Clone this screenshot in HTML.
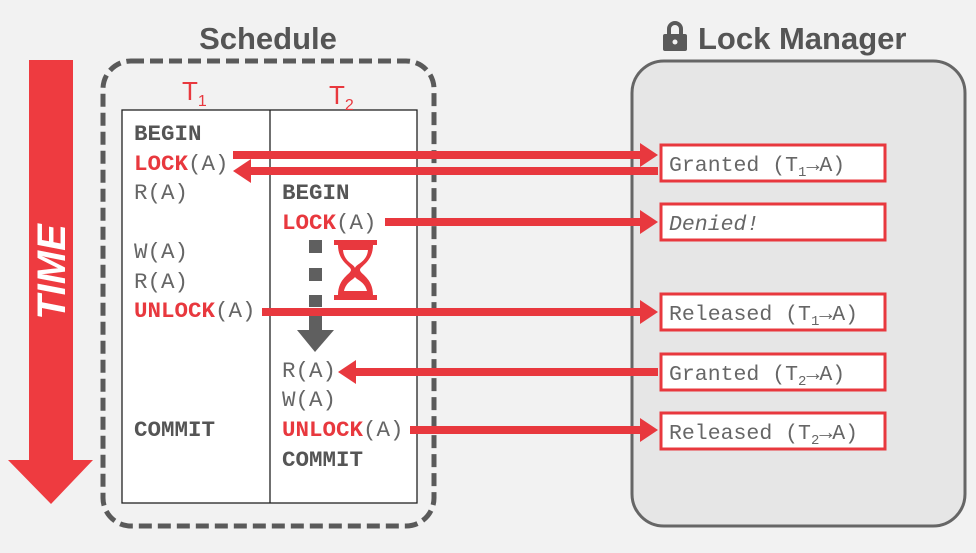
<!DOCTYPE html>
<html><head><meta charset="utf-8"><style>
html,body{margin:0;padding:0;background:#f2f2f2;}
svg{display:block}
.m{font-family:"Liberation Mono",monospace;font-size:22.5px;fill:#666}
.b{font-weight:bold;fill:#555}
.r{fill:#e8383e;font-weight:bold}
.h{font-family:"Liberation Sans",sans-serif;font-weight:bold;fill:#555;font-size:31px}
</style></head><body>
<svg width="976" height="553" viewBox="0 0 976 553" xmlns="http://www.w3.org/2000/svg">
<rect width="976" height="553" fill="#f2f2f2"/>
<polygon points="29,60 73,60 73,460 93,460 51,504 8,460 29,460" fill="#ee3b40"/>
<text transform="translate(65,272) rotate(-90)" text-anchor="middle" font-family="Liberation Sans,sans-serif" font-weight="bold" font-style="italic" font-size="40" fill="#fff">TIME</text>
<text x="268" y="49" text-anchor="middle" class="h">Schedule</text>
<rect x="103" y="61" width="331" height="465" rx="28" fill="none" stroke="#5a5a5a" stroke-width="5" stroke-dasharray="13,6"/>
<rect x="122" y="110" width="295" height="393" fill="#fff" stroke="#222" stroke-width="1.3"/>
<line x1="270" y1="110" x2="270" y2="503" stroke="#222" stroke-width="1.3"/>
<text x="182" y="100" font-family="Liberation Sans,sans-serif" font-size="26" fill="#e8383e">T<tspan font-size="16" dy="6">1</tspan></text>
<text x="329" y="104" font-family="Liberation Sans,sans-serif" font-size="26" fill="#e8383e">T<tspan font-size="16" dy="6">2</tspan></text>
<g class="m">
<text x="134" y="140" class="b">BEGIN</text>
<text x="134" y="170"><tspan class="r">LOCK</tspan>(A)</text>
<text x="134" y="199">R(A)</text>
<text x="134" y="258">W(A)</text>
<text x="134" y="288">R(A)</text>
<text x="134" y="317"><tspan class="r">UNLOCK</tspan>(A)</text>
<text x="134" y="436" class="b">COMMIT</text>
<text x="282" y="199" class="b">BEGIN</text>
<text x="282" y="229"><tspan class="r">LOCK</tspan>(A)</text>
<text x="282" y="377">R(A)</text>
<text x="282" y="406">W(A)</text>
<text x="282" y="436"><tspan class="r">UNLOCK</tspan>(A)</text>
<text x="282" y="466" class="b">COMMIT</text>
</g>
<g fill="#5f5f5f">
<rect x="309" y="240" width="13" height="13"/>
<rect x="309" y="268" width="13" height="13"/>
<rect x="309" y="295" width="13" height="12"/>
<rect x="309" y="316" width="13" height="14"/>
<polygon points="297,330 334,330 315,352"/>
</g>
<g fill="#e8383e">
<rect x="334" y="240" width="43" height="5"/>
<rect x="334" y="295" width="43" height="5"/>
<path d="M338,245 L373,245 C373,262 360,266 360,270 C360,274 373,278 373,295 L338,295 C338,278 351,274 351,270 C351,266 338,262 338,245 Z M343,250 C344,262 354,264 355,268 C356,264 367,262 368,250 Z M344,291 L367,291 C365,282 357,280 355,277 C353,280 346,282 344,291 Z" fill-rule="evenodd"/>
</g>
<text x="698" y="49" class="h">Lock Manager</text>
<g fill="#5a5a5a"><rect x="663" y="34" width="24" height="17" rx="2"/><path d="M667,35 v-6 a8,8 0 0 1 16,0 v6 h-4 v-6 a4,4 0 0 0 -8,0 v6z"/></g>
<circle cx="675" cy="42" r="2.5" fill="#f2f2f2"/>
<rect x="632" y="61" width="333" height="465" rx="32" fill="#e6e6e6" stroke="#666" stroke-width="3"/>
<g fill="#fff" stroke="#e8383e" stroke-width="3">
<rect x="661" y="145" width="224" height="36"/>
<rect x="661" y="204" width="224" height="36"/>
<rect x="661" y="294" width="224" height="36"/>
<rect x="661" y="354" width="224" height="36"/>
<rect x="661" y="413" width="224" height="36"/>
</g>
<g class="m" style="font-size:21.5px">
<text x="669" y="171">Granted (T<tspan font-size="14" dy="5">1</tspan><tspan dy="-5">→A)</tspan></text>
<text x="669" y="230" font-style="italic">Denied!</text>
<text x="669" y="320">Released (T<tspan font-size="14" dy="5">1</tspan><tspan dy="-5">→A)</tspan></text>
<text x="669" y="380">Granted (T<tspan font-size="14" dy="5">2</tspan><tspan dy="-5">→A)</tspan></text>
<text x="669" y="439">Released (T<tspan font-size="14" dy="5">2</tspan><tspan dy="-5">→A)</tspan></text>
</g>
<g fill="#e8383e">
<rect x="233" y="151" width="410" height="8"/><polygon points="640,143 658,155 640,167"/>
<rect x="248" y="167" width="410" height="8"/><polygon points="251,159 233,171 251,183"/>
<rect x="385" y="218" width="258" height="8"/><polygon points="640,210 658,222 640,234"/>
<rect x="262" y="308" width="381" height="8"/><polygon points="640,300 658,312 640,324"/>
<rect x="354" y="368" width="304" height="8"/><polygon points="356,360 338,372 356,384"/>
<rect x="410" y="426" width="233" height="8"/><polygon points="640,418 658,430 640,442"/>
</g>
</svg>
</body></html>
